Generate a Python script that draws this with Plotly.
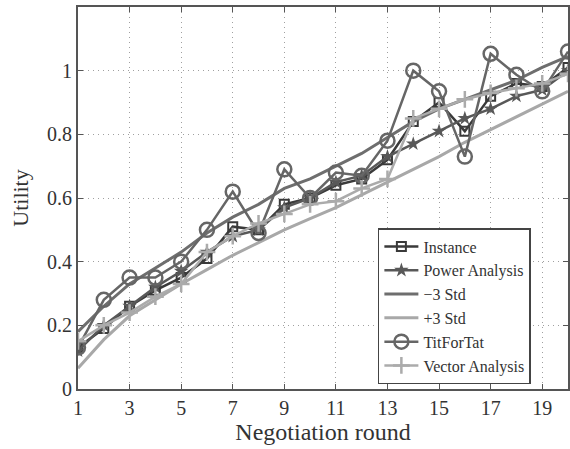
import plotly.graph_objects as go

rounds = list(range(1, 21))
instance = [0.13, 0.19, 0.26, 0.31, 0.35, 0.41, 0.51, 0.50, 0.58, 0.60, 0.64, 0.66, 0.72, 0.84, 0.90, 0.81, 0.92, 0.96, 0.95, 1.01]
power = [0.12, 0.20, 0.26, 0.32, 0.37, 0.43, 0.48, 0.50, 0.57, 0.60, 0.65, 0.67, 0.73, 0.77, 0.81, 0.85, 0.88, 0.92, 0.94, 1.00]
minus3 = [0.18, 0.26, 0.33, 0.38, 0.43, 0.49, 0.54, 0.58, 0.63, 0.66, 0.70, 0.74, 0.79, 0.84, 0.88, 0.91, 0.94, 0.97, 1.01, 1.045]
plus3 = [0.065, 0.155, 0.23, 0.28, 0.33, 0.375, 0.42, 0.46, 0.50, 0.535, 0.57, 0.61, 0.65, 0.69, 0.73, 0.775, 0.815, 0.855, 0.895, 0.935]
titfortat = [0.13, 0.28, 0.35, 0.35, 0.40, 0.50, 0.62, 0.49, 0.69, 0.60, 0.68, 0.67, 0.78, 1.00, 0.935, 0.73, 1.053, 0.987, 0.935, 1.06]
vector = [0.15, 0.20, 0.24, 0.29, 0.33, 0.43, 0.48, 0.52, 0.55, 0.58, 0.59, 0.63, 0.66, 0.85, 0.88, 0.91, 0.93, 0.945, 0.96, 0.99]
x_ticks = [1, 3, 5, 7, 9, 11, 13, 15, 17, 19]
y_ticks = [0, 0.2, 0.4, 0.6, 0.8, 1]
y_tick_text = ["0", "0.2", "0.4", "0.6", "0.8", "1"]

fig = go.Figure()
fig.add_trace(go.Scatter(x=rounds, y=instance, name="Instance", mode="lines+markers",
                         line=dict(color="#3a3a3a", width=2.5),
                         marker=dict(symbol="square-open", size=9, color="#3a3a3a", line=dict(width=2))))
fig.add_trace(go.Scatter(x=rounds, y=power, name="Power Analysis", mode="lines+markers",
                         line=dict(color="#585858", width=2.5),
                         marker=dict(symbol="star", size=11, color="#585858")))
fig.add_trace(go.Scatter(x=rounds, y=minus3, name="\u22123 Std", mode="lines",
                         line=dict(color="#6e6e6e", width=3)))
fig.add_trace(go.Scatter(x=rounds, y=plus3, name="+3 Std", mode="lines",
                         line=dict(color="#a8a8a8", width=3)))
fig.add_trace(go.Scatter(x=rounds, y=titfortat, name="TitForTat", mode="lines+markers",
                         line=dict(color="#666666", width=2.5),
                         marker=dict(symbol="circle-open", size=14, color="#666666", line=dict(width=2.5))))
fig.add_trace(go.Scatter(x=rounds, y=vector, name="Vector Analysis", mode="lines+markers",
                         line=dict(color="#ababab", width=2.5),
                         marker=dict(symbol="cross-thin-open", size=12, color="#ababab", line=dict(width=2.5))))

font_family = "Liberation Serif"
fig.update_layout(
    width=570, height=449,
    margin=dict(l=78, r=2, t=7, b=60),
    paper_bgcolor="white", plot_bgcolor="white",
    font=dict(family=font_family, color="#333333", size=20),
    showlegend=True,
    legend=dict(x=0.612, y=0.013, xanchor="left", yanchor="bottom",
                bgcolor="white", bordercolor="#444444", borderwidth=1.5,
                font=dict(size=16, family=font_family, color="#333333"),
                tracegroupgap=0, itemwidth=34),
    xaxis=dict(range=[1, 20], tickmode="array", tickvals=x_ticks, automargin=False,
               showline=True, linecolor="#555555", linewidth=2, mirror="ticks",
               ticks="inside", ticklen=5, tickcolor="#555555",
               showgrid=True, gridcolor="#a0a0a0", griddash="1px,4px", gridwidth=1,
               zeroline=False,
               title=dict(text="Negotiation round", font=dict(size=24), standoff=2)),
    yaxis=dict(range=[0, 1.2], tickmode="array", tickvals=y_ticks, ticktext=y_tick_text,
               automargin=False,
               showline=True, linecolor="#555555", linewidth=2, mirror="ticks",
               ticks="inside", ticklen=5, tickcolor="#555555",
               showgrid=True, gridcolor="#a0a0a0", griddash="1px,4px", gridwidth=1,
               zeroline=False,
               title=dict(text="Utility", font=dict(size=22), standoff=12)),
)

fig.write_html("out.html", config={"displayModeBar": False},
               post_script="document.body.style.margin='0';document.body.style.overflow='hidden';")
